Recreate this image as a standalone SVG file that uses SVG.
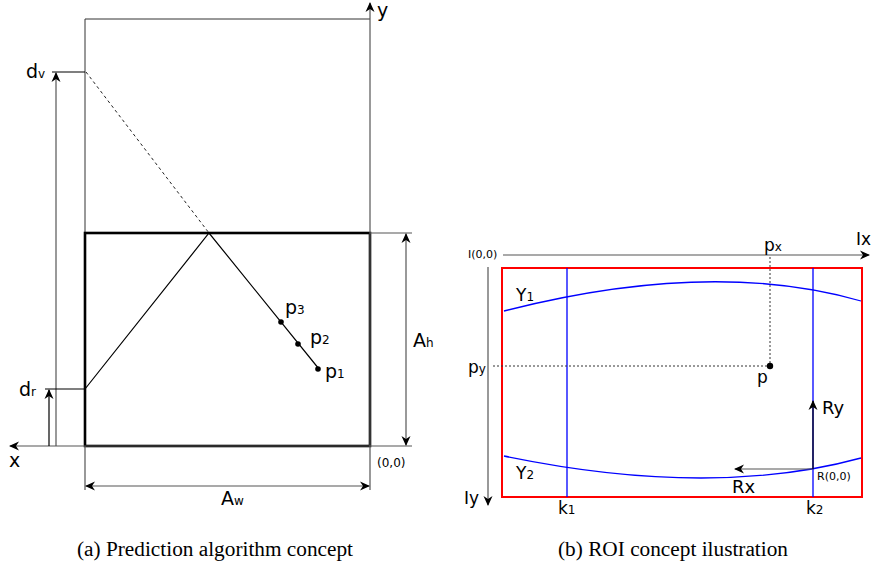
<svg xmlns="http://www.w3.org/2000/svg" width="873" height="567" viewBox="0 0 873 567">
<style>
text{font-family:"DejaVu Sans",sans-serif;fill:#000}
.cap{font-family:"Liberation Serif",serif;font-size:20px}
.thin{fill:none;stroke:#333;stroke-width:1}
.gray{fill:none;stroke:#555;stroke-width:1.2}
.blk{fill:none;stroke:#000;stroke-width:1.2}
.bold{fill:none;stroke:#000;stroke-width:2.6}
.dash{fill:none;stroke:#222;stroke-width:1;stroke-dasharray:3,3}
.dot{fill:none;stroke:#333;stroke-width:1;stroke-dasharray:2,2}
.blue{fill:none;stroke:#0000ff;stroke-width:1.3}
.red{fill:none;stroke:#ff0000;stroke-width:2}
.m{font-size:19px}
.r{font-size:17px}
.s{font-size:12px}
</style>
<defs>
<marker id="ag" viewBox="-10 -5 12 10" refX="0" refY="0" markerWidth="12" markerHeight="10" orient="auto-start-reverse" markerUnits="userSpaceOnUse"><path d="M1,0 L-9,-4.5 L-6,0 L-9,4.5 Z" fill="#000"/></marker>
</defs>

<g id="panel-a">
<g id="frame-top"><path class="thin" d="M85,19 H370 M85,19 V233"/></g>
<g id="arena"><rect class="bold" x="85" y="233" width="285" height="213"/></g>
<g id="connectors-a">
<path class="gray" d="M370,446 V3" marker-end="url(#ag)"/>
<path class="gray" d="M370,446 H10" marker-end="url(#ag)"/>
<path class="gray" d="M370,233 H412 M370,446 H412"/>
<path class="gray" d="M406,234 V445" marker-start="url(#ag)" marker-end="url(#ag)"/>
<path class="gray" d="M85,446 V490 M370,446 V490"/>
<path class="gray" d="M86,486 H369" marker-start="url(#ag)" marker-end="url(#ag)"/>
<path class="gray" d="M56,446 V73" marker-end="url(#ag)"/>
<path class="blk" d="M52,72 H85"/>
<path class="blk" d="M49,446 V390" marker-end="url(#ag)"/>
<path class="blk" d="M45,389 H85"/>
<path class="dash" d="M86,72 L209,233"/>
<path class="blk" d="M85,389 L209,233 L319,369"/>
</g>
<g id="points-a">
<circle cx="281" cy="322" r="2.8"/>
<circle cx="298" cy="344" r="2.8"/>
<circle cx="318" cy="369" r="2.8"/>
</g>
<g id="labels-a">
<text class="m" x="377" y="17">y</text>
<text class="m" x="9" y="467">x</text>
<text class="m" x="26" y="78">d<tspan class="s">v</tspan></text>
<text class="m" x="19" y="396">d<tspan class="s">r</tspan></text>
<text class="m" x="285" y="314">p<tspan class="s">3</tspan></text>
<text class="m" x="310" y="344">p<tspan class="s">2</tspan></text>
<text class="m" x="325" y="378">p<tspan class="s">1</tspan></text>
<text class="m" x="413" y="347">A<tspan class="s">h</tspan></text>
<text class="m" x="221" y="505">A<tspan class="s">w</tspan></text>
<text x="377" y="467" font-size="12">(0,0)</text>
</g>
</g>

<g id="panel-b">
<g id="roi"><rect class="red" x="502" y="268" width="360" height="229"/></g>
<g id="curves">
<path class="blue" d="M504,311 Q711,258 861,301"/>
<path class="blue" d="M504,456 Q711,499 861,458"/>
<path class="blue" d="M567,268 V497 M813,268 V497"/>
</g>
<g id="connectors-b">
<path class="gray" d="M503,255 H869" marker-end="url(#ag)"/>
<path class="gray" d="M488,267 V505" marker-end="url(#ag)"/>
<path class="dot" d="M770,257 V366 M493,366 H770"/>
<path class="gray" d="M813,469 H735" marker-end="url(#ag)"/>
<path class="blk" d="M813,469 V401" stroke-width="1.5" marker-end="url(#ag)"/>
</g>
<g id="point-p"><circle cx="770" cy="366" r="3.2"/></g>
<g id="labels-b">
<text x="468" y="258" font-size="11">I(0,0)</text>
<text x="856" y="245" class="r">Ix</text>
<text x="464" y="504" class="r">Iy</text>
<text x="516" y="301" class="r">Y<tspan class="s">1</tspan></text>
<text x="516" y="479" class="r">Y<tspan class="s">2</tspan></text>
<text x="764" y="251" class="r">p<tspan class="s">x</tspan></text>
<text x="468" y="373" class="r">p<tspan class="s">y</tspan></text>
<text x="757" y="383" class="r">p</text>
<text x="822" y="414" font-size="18">Ry</text>
<text x="732" y="493" font-size="18">Rx</text>
<text x="817" y="480" font-size="11">R(0,0)</text>
<text x="558" y="514" class="r">k<tspan class="s">1</tspan></text>
<text x="806" y="514" class="r">k<tspan class="s">2</tspan></text>
</g>
</g>

<g id="captions">
<text class="cap" x="77" y="556" textLength="276" lengthAdjust="spacingAndGlyphs">(a) Prediction algorithm concept</text>
<text class="cap" x="558" y="556" textLength="230" lengthAdjust="spacingAndGlyphs">(b) ROI concept ilustration</text>
</g>
</svg>
